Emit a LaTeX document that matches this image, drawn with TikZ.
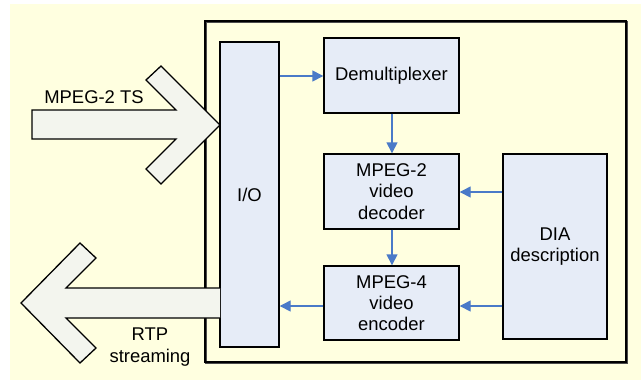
\documentclass[tikz,border=0pt]{standalone}
\usepackage{fontspec}
\setmainfont{Liberation Sans}
\usetikzlibrary{arrows.meta,calc}
\definecolor{bgyellow}{HTML}{FFFFE0}
\definecolor{boxfill}{HTML}{E6ECF7}
\definecolor{arrfill}{HTML}{F3F5EE}
\definecolor{connblue}{HTML}{4A7AC8}
\begin{document}
\begin{tikzpicture}[x=1bp,y=-1bp,
  blk/.style={draw=black,line width=1.4bp,fill=boxfill,inner sep=0pt,align=center,
    font=\fontsize{18.5}{21.3}\selectfont},
  conn/.style={draw=connblue,line width=1.4bp,-{Triangle[length=11bp,width=11bp]}},
  bigarrow/.style={draw=black,line width=1.3bp,fill=arrfill,line join=miter},
  lbl/.style={align=center,inner sep=0pt,font=\fontsize{18.5}{21.3}\selectfont}]
\useasboundingbox (0,0) rectangle (641,380);
\fill[bgyellow] (10,4) rectangle (641,380);
% outer frame
\draw[black!70,line width=1.4bp] (206,22) rectangle (627,363);
\draw[black,line width=1.4bp] (205,21) rectangle (626,362);
% blocks (with slight shadow)
\fill[black!60] (221,43) rectangle (280,348);
\node[blk,minimum width=59bp,minimum height=305bp] (io) at (249.5,194.5) {I/O};
\fill[black!60] (325,39) rectangle (460,114);
\node[blk,minimum width=135bp,minimum height=75bp] (demux) at (391.5,75.5) {Demultiplexer};
\fill[black!60] (325,155) rectangle (460,230);
\node[blk,minimum width=135bp,minimum height=75bp] (dec) at (391.5,191.5) {MPEG-2\\video\\decoder};
\fill[black!60] (325,267) rectangle (460,341);
\node[blk,minimum width=135bp,minimum height=74bp] (enc) at (391.5,303) {MPEG-4\\video\\encoder};
\fill[black!60] (504,155) rectangle (608,340);
\node[blk,minimum width=104bp,minimum height=185bp] (dia) at (555,246.5) {DIA\\description};
% connector end points
\coordinate (y1) at (0,76);
\coordinate (y2) at (0,192);
\coordinate (y3) at (0,306);
\coordinate (x1) at (392,0);
% connectors
\draw[conn] (io.east |- y1) -- (demux.west |- y1);
\draw[conn] (x1 |- demux.south) -- (x1 |- dec.north);
\draw[conn] (x1 |- dec.south) -- (x1 |- enc.north);
\draw[conn] (dia.west |- y2) -- (dec.east |- y2);
\draw[conn] (dia.west |- y3) -- (enc.east |- y3);
\draw[conn] (enc.west |- y3) -- (io.east |- y3);
% big arrows
\draw[bigarrow] (32,110) -- (176,110) -- (146,80) -- (161,66) -- (220,125)
  -- (161,184) -- (146,169) -- (176,139) -- (32,139) -- cycle;
\draw[bigarrow] (220,288) -- (66,288) -- (96,258) -- (80,243) -- (21,303)
  -- (80,363) -- (96,348) -- (66,318) -- (220,318);
% labels
\node[lbl] (tsl) at (94,97) {MPEG-2 TS};
\node[lbl] (rtpl) at (150,347) {RTP\\streaming};
\end{tikzpicture}
\end{document}
